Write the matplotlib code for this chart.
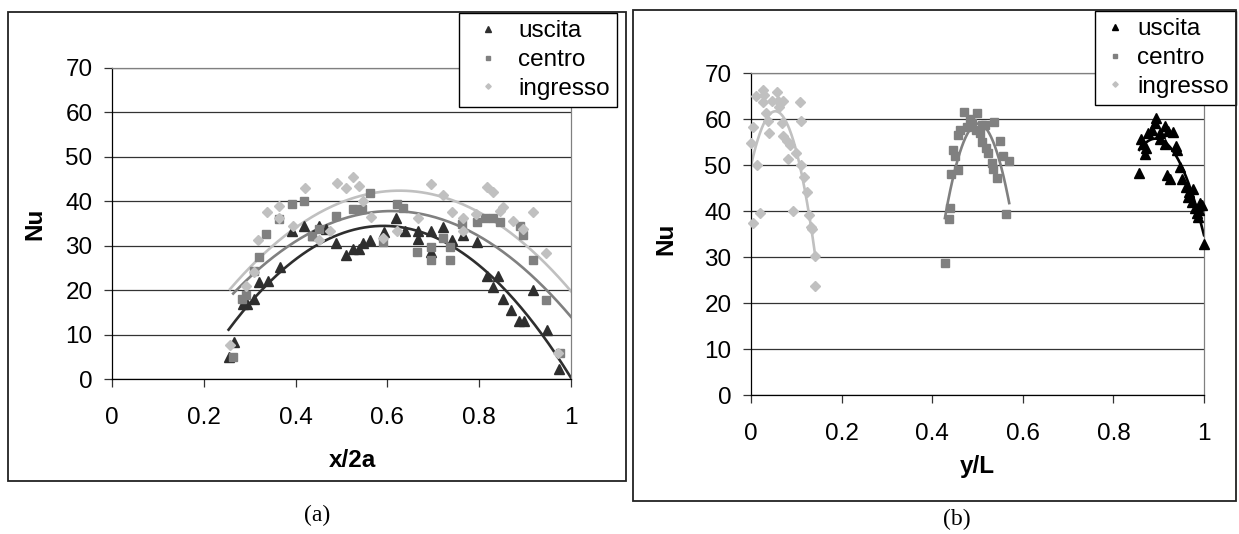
import numpy as np
import matplotlib
matplotlib.use("Agg")
import matplotlib.pyplot as plt
from matplotlib.patches import Rectangle

plt.rcParams['font.family'] = ['Liberation Sans', 'DejaVu Sans']

# ---- panel (a): Nu vs x/2a ----
a_usc_x = [0.254, 0.266, 0.285, 0.295, 0.310, 0.320, 0.339, 0.365, 0.392, 0.419, 0.437, 0.450,
           0.467, 0.488, 0.510, 0.525, 0.538, 0.547, 0.563, 0.592, 0.619, 0.638, 0.667, 0.667,
           0.696, 0.696, 0.721, 0.740, 0.765, 0.796, 0.816, 0.841, 0.830, 0.851, 0.870, 0.887,
           0.897, 0.918, 0.947, 0.974]
a_usc_y = [5.0, 8.4, 16.8, 16.8, 18.1, 21.8, 22.0, 25.3, 33.4, 34.5, 32.5, 34.5,
           33.8, 30.6, 28.0, 29.3, 29.3, 30.6, 31.3, 33.0, 36.2, 33.3, 33.4, 31.5,
           33.4, 28.5, 34.3, 31.3, 32.3, 30.8, 23.1, 23.1, 20.7, 17.9, 15.5, 13.1,
           13.1, 20.0, 11.1, 2.2]

a_cen_x = [0.264, 0.283, 0.292, 0.310, 0.320, 0.336, 0.363, 0.392, 0.419, 0.436, 0.452, 0.488,
           0.525, 0.545, 0.563, 0.590, 0.620, 0.635, 0.664, 0.694, 0.694, 0.721, 0.737, 0.737,
           0.763, 0.796, 0.812, 0.830, 0.845, 0.889, 0.896, 0.918, 0.945, 0.975]
a_cen_y = [5.0, 18.1, 18.8, 24.2, 27.4, 32.7, 36.0, 39.5, 40.0, 32.1, 33.8, 36.8,
           38.3, 38.3, 41.9, 30.8, 39.5, 38.5, 28.5, 29.8, 26.7, 31.8, 26.7, 29.8,
           34.9, 35.3, 36.3, 36.3, 35.3, 34.5, 32.5, 26.7, 17.7, 5.8]

a_ing_x = [0.257, 0.292, 0.310, 0.317, 0.337, 0.363, 0.363, 0.394, 0.421, 0.450, 0.474, 0.490,
           0.510, 0.525, 0.538, 0.547, 0.565, 0.590, 0.620, 0.667, 0.696, 0.721, 0.740, 0.765,
           0.765, 0.794, 0.816, 0.830, 0.845, 0.851, 0.873, 0.895, 0.918, 0.945, 0.972]
a_ing_y = [7.6, 20.9, 24.1, 31.2, 37.5, 39.0, 36.3, 34.5, 43.0, 31.3, 33.4, 44.2,
           43.0, 45.5, 43.5, 40.0, 36.4, 31.8, 33.4, 36.3, 44.0, 41.5, 37.5, 36.3,
           33.4, 37.2, 43.3, 42.0, 37.9, 38.8, 35.5, 33.8, 37.5, 28.3, 5.9]

# ---- panel (b): Nu vs y/L ----
b_ing_x = [0.011, 0.027, 0.029, 0.026, 0.046, 0.058, 0.060, 0.071, 0.062, 0.033, 0.038, 0.005,
           0.040, 0.068, 0.108, 0.110, 0.071, 0.079, 0.086, 0.000, 0.099, 0.082, 0.014, 0.110,
           0.117, 0.123, 0.020, 0.092, 0.004, 0.129, 0.132, 0.134, 0.141, 0.141]
b_ing_y = [65.0, 66.2, 65.2, 63.8, 64.0, 65.9, 64.0, 64.0, 62.7, 61.4, 59.6, 58.2,
           57.0, 59.2, 63.8, 59.6, 56.3, 55.3, 54.3, 54.8, 52.7, 51.4, 50.0, 50.0,
           47.3, 44.2, 39.5, 39.9, 37.3, 39.1, 36.6, 36.0, 30.2, 23.7]

b_cen_x = [0.470, 0.498, 0.536, 0.483, 0.487, 0.461, 0.458, 0.476, 0.497, 0.509, 0.517, 0.506,
           0.511, 0.519, 0.524, 0.550, 0.556, 0.570, 0.445, 0.450, 0.531, 0.535, 0.542, 0.458,
           0.441, 0.439, 0.436, 0.563, 0.428]
b_cen_y = [61.6, 61.4, 59.4, 59.9, 59.1, 57.6, 56.5, 58.3, 57.6, 58.7, 58.7, 57.0,
           55.1, 53.6, 52.7, 55.3, 52.0, 50.9, 53.3, 52.0, 50.5, 49.1, 47.1, 48.9,
           48.0, 40.6, 38.2, 39.3, 28.8]

b_usc_x = [0.894, 0.892, 0.914, 0.931, 0.921, 0.885, 0.877, 0.903, 0.862, 0.866, 0.873, 0.870,
           0.903, 0.914, 0.938, 0.940, 0.857, 0.919, 0.924, 0.947, 0.951, 0.960, 0.967, 0.976,
           0.965, 0.973, 0.991, 0.995, 0.980, 0.984, 0.990, 0.986, 1.000]
b_usc_y = [60.2, 59.2, 58.5, 57.2, 57.5, 57.6, 56.9, 56.9, 55.6, 54.6, 53.6, 52.5,
           55.6, 54.6, 54.1, 53.3, 48.2, 47.8, 46.9, 49.5, 46.9, 45.3, 44.2, 44.7,
           43.1, 42.0, 41.8, 41.3, 40.6, 39.6, 40.2, 38.6, 32.8]

series_names = ['uscita', 'centro', 'ingresso']
markers = ['^', 's', 'D']
msizes = [7.5, 5.5, 5.0]
FS = 17.5

W, H = 1239, 534
fig = plt.figure(figsize=(W / 100, H / 100), dpi=100)


def px_rect(x0, y0, x1, y1):
    # pixel box (top-left origin) -> figure fraction
    return [x0 / W, 1 - y1 / H, (x1 - x0) / W, (y1 - y0) / H]


def trend(ax, x, y, color, x_end=None):
    # polynomial trendline (2nd order) through the points
    x = np.asarray(x)
    y = np.asarray(y)
    coef = np.polyfit(x, y, 2)
    xx = np.linspace(x.min(), x.max() if x_end is None else x_end, 200)
    ax.plot(xx, np.polyval(coef, xx), color=color, lw=1.9, zorder=2)


def style_axes(ax, xlabel):
    ax.set_xlim(0, 1)
    ax.set_ylim(0, 70)
    ax.set_xticks([0, 0.2, 0.4, 0.6, 0.8, 1.0])
    ax.set_xticklabels(['0', '0.2', '0.4', '0.6', '0.8', '1'])
    ax.set_yticks(range(0, 71, 10))
    ax.yaxis.grid(True, color='#333333', lw=0.9)
    ax.set_axisbelow(True)
    for s in ['top', 'right']:
        ax.spines[s].set_color('#808080')
        ax.spines[s].set_linewidth(0.9)
    for s in ['left', 'bottom']:
        ax.spines[s].set_color('black')
        ax.spines[s].set_linewidth(0.9)
    ax.tick_params(direction='out', length=6, width=0.9, labelsize=FS, color='#333333')
    ax.tick_params(axis='x', pad=14)
    ax.tick_params(axis='y', pad=8)
    ax.set_xlabel(xlabel, fontsize=FS, fontweight='bold')
    ax.set_ylabel('Nu', fontsize=FS, fontweight='bold')


def add_legend(ax, right_px, top_px, handlelength):
    lg = ax.legend(loc='upper right', bbox_to_anchor=(right_px / W, 1 - top_px / H),
                   bbox_transform=fig.transFigure, borderaxespad=0, fontsize=FS,
                   fancybox=False, framealpha=1, edgecolor='black', markerscale=0.55,
                   handlelength=handlelength, handletextpad=0.35, labelspacing=0.28,
                   borderpad=0.3)
    lg.get_frame().set_linewidth(1.0)
    lg.set_zorder(5)
    return lg


# outer frames
for box in [(8, 12, 626, 481), (633, 10, 1236, 501)]:
    x0, y0, w, h = px_rect(*box)
    fig.patches.append(Rectangle((x0, y0), w, h, transform=fig.transFigure,
                                 fill=False, edgecolor='#222222', lw=1.3))

# ---- (a) ----
axa = fig.add_axes(px_rect(112, 68, 571, 379))
cols_a = ['#2e2e2e', '#808080', '#c0c0c0']
data_a = [(a_usc_x, a_usc_y), (a_cen_x, a_cen_y), (a_ing_x, a_ing_y)]
for (x, y), c, m, ms, n in zip(data_a, cols_a, markers, msizes, series_names):
    axa.plot(x, y, ls='none', marker=m, ms=ms, color=c, mec=c, label=n, zorder=3)
for (x, y), c in zip(data_a, cols_a):
    trend(axa, x, y, c, x_end=1.0)
style_axes(axa, 'x/2a')
axa.xaxis.set_label_coords(0.523, -0.225)
axa.yaxis.set_label_coords(-0.144, 0.5)
add_legend(axa, 617, 13, 1.8)

# ---- (b) ----
axb = fig.add_axes(px_rect(751, 73, 1204, 395))
cols_b = ['black', '#808080', '#c0c0c0']
data_b = [(b_usc_x, b_usc_y), (b_cen_x, b_cen_y), (b_ing_x, b_ing_y)]
for (x, y), c, m, ms, n in zip(data_b, cols_b, markers, msizes, series_names):
    axb.plot(x, y, ls='none', marker=m, ms=ms, color=c, mec=c, label=n, zorder=3,
             clip_on=False)
for (x, y), c in zip(data_b, cols_b):
    trend(axb, x, y, c)
style_axes(axb, 'y/L')
axb.xaxis.set_label_coords(0.5, -0.185)
axb.yaxis.set_label_coords(-0.163, 0.484)
add_legend(axb, 1236, 11, 1.1)

# captions
fig.text(317 / W, 1 - 515 / H, '(a)', ha='center', va='center', fontsize=17,
         family=['Liberation Serif', 'DejaVu Serif'])
fig.text(957 / W, 1 - 519 / H, '(b)', ha='center', va='center', fontsize=17,
         family=['Liberation Serif', 'DejaVu Serif'])

fig.savefig('out.png', dpi=100)
